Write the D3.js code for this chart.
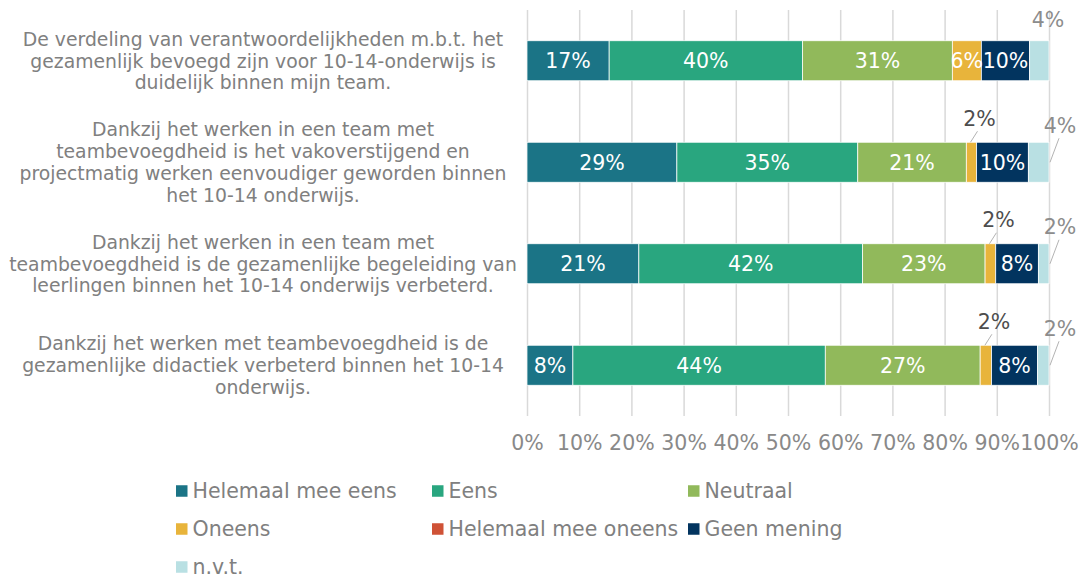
<!DOCTYPE html>
<html>
<head>
<meta charset="utf-8">
<script src="https://cdn.jsdelivr.net/npm/d3@7"></script>
<style>
	body { margin: 0; background: #fff; }
	text { font-family: "DejaVu Sans", Verdana, sans-serif; }
</style>
</head>
<body>
<div id="chartDiv"></div>
<script>
// Statements (one entry per bar, split in the lines as shown)
var categories = [
	["De verdeling van verantwoordelijkheden m.b.t. het", "gezamenlijk bevoegd zijn voor 10-14-onderwijs is", "duidelijk binnen mijn team."],
	["Dankzij het werken in een team met", "teambevoegdheid is het vakoverstijgend en", "projectmatig werken eenvoudiger geworden binnen", "het 10-14 onderwijs."],
	["Dankzij het werken in een team met", "teambevoegdheid is de gezamenlijke begeleiding van", "leerlingen binnen het 10-14 onderwijs verbeterd."],
	["Dankzij het werken met teambevoegdheid is de", "gezamenlijke didactiek verbeterd binnen het 10-14", "onderwijs."]
];

// Answer categories
var seriesNames = ["Helemaal mee eens", "Eens", "Neutraal", "Oneens", "Helemaal mee oneens", "Geen mening", "n.v.t."];
var seriesColors = ["#1b7486", "#29a67f", "#91b95b", "#e8b43b", "#cf5236", "#02345f", "#b9e0e3"];

// Percentages per statement (as labelled)
var helemaalMeeEens   = [17, 29, 21, 8];
var eens              = [40, 35, 42, 44];
var neutraal          = [31, 21, 23, 27];
var oneens            = [6, 2, 2, 2];
var helemaalMeeOneens = [0, 0, 0, 0];
var geenMening        = [10, 10, 8, 8];
var nvt               = [4, 4, 2, 2];

// x axis ticks
var tickValues = [0, 0.1, 0.2, 0.3, 0.4, 0.5, 0.6, 0.7, 0.8, 0.9, 1];

function chartInit() {
	var W = 1083, H = 578;
	var margin = {top: 10, right: 34, bottom: 162, left: 527};
	var width = W - margin.left - margin.right,
	    height = H - margin.top - margin.bottom;

	var seriesValues = [helemaalMeeEens, eens, neutraal, oneens, helemaalMeeOneens, geenMening, nvt];
	var rows = categories.map(function(c, i) {
		var r = {cat: i};
		seriesNames.forEach(function(s, j) { r[s] = seriesValues[j][i]; });
		return r;
	});

	var stacked = d3.stack().keys(seriesNames).offset(d3.stackOffsetExpand)(rows);

	var x = d3.scaleLinear().domain([0, 1]).range([0, width]);
	var y = d3.scaleBand().domain(d3.range(categories.length)).range([0, height])
		.paddingInner(0.606).paddingOuter(0.303);
	var color = d3.scaleOrdinal().domain(seriesNames).range(seriesColors);

	var svg = d3.select("#chartDiv").append("svg")
		.attr("width", W).attr("height", H);
	var g = svg.append("g")
		.attr("transform", "translate(" + margin.left + "," + margin.top + ")");

	// gridlines
	g.append("g")
		.attr("class", "grid")
		.attr("transform", "translate(0," + height + ")")
		.call(d3.axisBottom(x).tickValues(tickValues).tickSize(-height).tickFormat(""))
		.call(function(s) {
			s.select(".domain").remove();
			s.selectAll("line").attr("stroke", "#d9d9d9").attr("stroke-width", 1.5);
		});

	// tick labels
	g.append("g")
		.attr("class", "xaxis")
		.attr("transform", "translate(0," + height + ")")
		.call(d3.axisBottom(x).tickValues(tickValues).tickSize(0).tickPadding(19).tickFormat(d3.format(".0%")))
		.call(function(s) {
			s.select(".domain").remove();
			s.selectAll("text").attr("fill", "#898989").style("font-size", "20.5px")
				.style("font-family", "'DejaVu Sans', Verdana, sans-serif");
		});

	// bars
	var layers = g.selectAll(".layer").data(stacked).enter().append("g")
		.attr("class", "layer")
		.attr("fill", function(d) { return color(d.key); });

	layers.selectAll("rect").data(function(d) { return d; }).enter().append("rect")
		.attr("x", function(d) { return x(d[0]); })
		.attr("y", function(d) { return y(d.data.cat); })
		.attr("width", function(d) { return x(d[1]) - x(d[0]); })
		.attr("height", y.bandwidth())
		.attr("stroke", "#fff")
		.attr("stroke-width", 0.75);

	// data labels
	var labels = g.append("g").attr("class", "labels");
	var calloutUsed = {};
	stacked.forEach(function(layer) {
		layer.forEach(function(d) {
			var v = d.data[layer.key];
			if (!v) return;
			var x0 = x(d[0]), x1 = x(d[1]), w = x1 - x0, cx = (x0 + x1) / 2;
			var top = y(d.data.cat), cy = top + y.bandwidth() / 2;
			if (w > 25) {
				labels.append("text")
					.attr("x", cx).attr("y", cy).attr("dy", "0.36em")
					.attr("text-anchor", "middle")
					.attr("fill", "#fff").style("font-size", "20.5px")
					.text(v + "%");
				return;
			}
			var last = layer.key === seriesNames[seriesNames.length - 1];
			var lx, ly, lineFrom, lineTo, fill;
			if (last && !calloutUsed[d.data.cat]) {
				// straight above the bar end, no leader
				lx = x1 - 1; ly = top - 21; fill = "#8c8c8c";
			} else if (last) {
				lx = x1 + 11; ly = top - 17; fill = "#8c8c8c";
				lineFrom = [x1 + 1, top + 20]; lineTo = [x1 + 10, top - 4];
			} else {
				lx = cx + 8; ly = top - 24; fill = "#4d4d4d";
				lineFrom = [cx - 1, top]; lineTo = [lx - 2, top - 11];
				calloutUsed[d.data.cat] = true;
			}
			if (lineFrom) {
				labels.append("line")
					.attr("x1", lineFrom[0]).attr("y1", lineFrom[1])
					.attr("x2", lineTo[0]).attr("y2", lineTo[1])
					.attr("stroke", "#b3b3b3").attr("stroke-width", 1);
			}
			labels.append("text")
				.attr("x", lx).attr("y", ly).attr("dy", "0.36em")
				.attr("text-anchor", "middle")
				.attr("fill", fill).style("font-size", "20.5px")
				.text(v + "%");
		});
	});

	// category labels
	var lineH = 21.7;
	var cats = svg.append("g").attr("class", "cats");
	categories.forEach(function(lines, i) {
		var cy = margin.top + y(i) + y.bandwidth() / 2;
		var t = cats.append("text")
			.attr("text-anchor", "middle")
			.attr("fill", "#808080")
			.style("font-size", "18.8px");
		lines.forEach(function(l, k) {
			t.append("tspan")
				.attr("x", 263)
				.attr("y", cy + (k - (lines.length - 1) / 2) * lineH)
				.attr("dy", "0.36em")
				.text(l);
		});
	});

	// legend
	var legend = svg.append("g").attr("class", "legend");
	var legX = 176, legColW = 256, legY = 491, legRowH = 38, box = 11.5;
	seriesNames.forEach(function(s, i) {
		var lx = legX + (i % 3) * legColW, ly = legY + Math.floor(i / 3) * legRowH;
		legend.append("rect")
			.attr("x", lx).attr("y", ly - box / 2)
			.attr("width", box).attr("height", box)
			.attr("fill", color(s));
		legend.append("text")
			.attr("x", lx + box + 5).attr("y", ly).attr("dy", "0.36em")
			.attr("fill", "#808080").style("font-size", "20.5px")
			.text(s);
	});
}

chartInit();
</script>
</body>
</html>
